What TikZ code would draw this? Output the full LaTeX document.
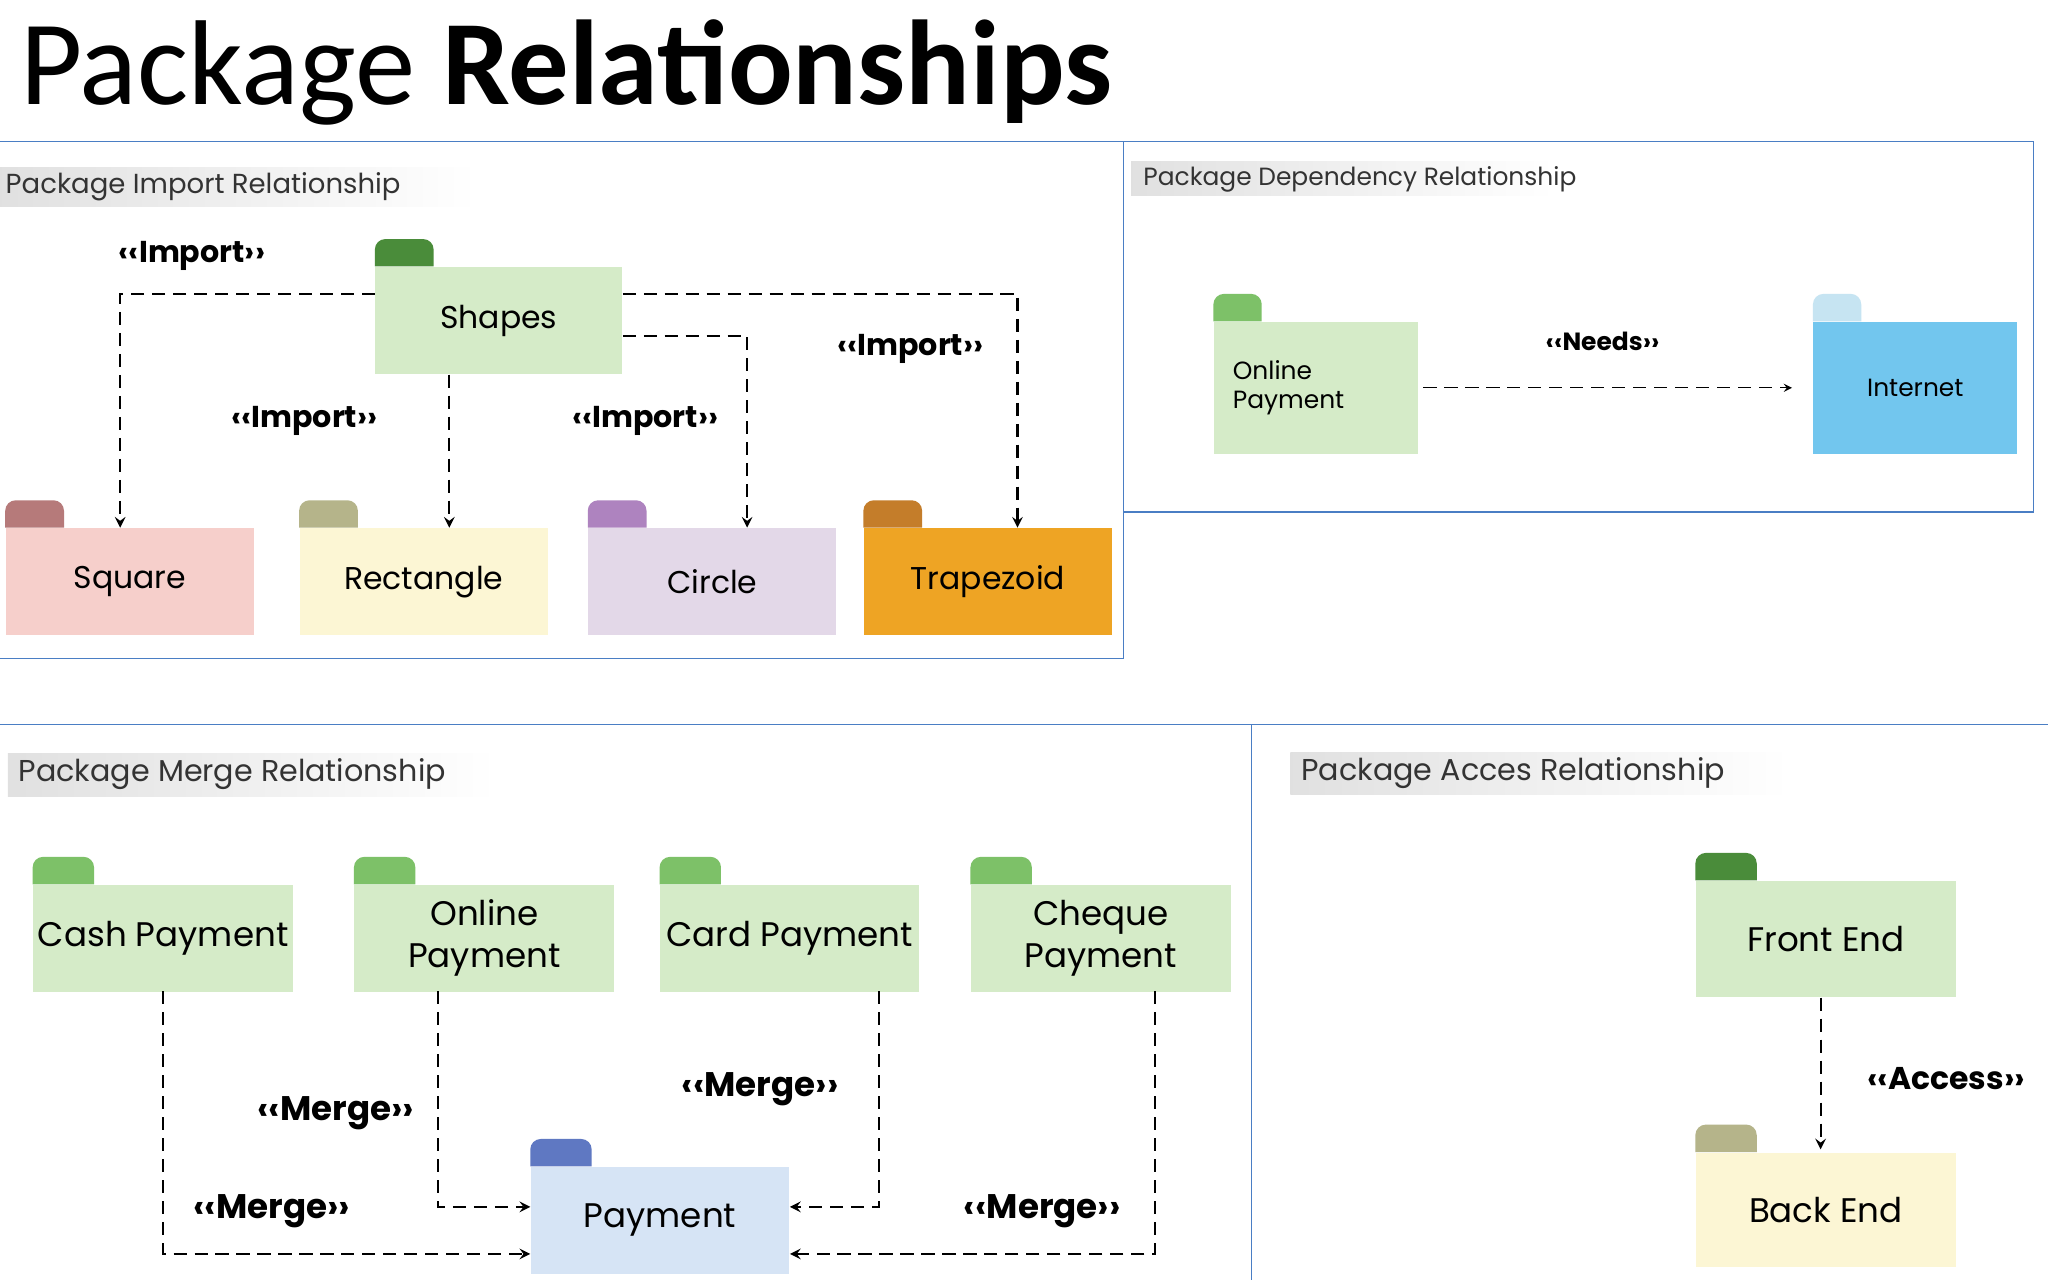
\documentclass[tikz,border=0pt]{standalone}
\usepackage{fontspec}
\setmainfont{Poppins}
\newfontfamily\titlefont{Carlito}
\usetikzlibrary{arrows,positioning,calc}
\definecolor{shapesbody}{HTML}{D5EBC8}
\definecolor{darktab}{HTML}{4A8C3A}
\definecolor{lighttab}{HTML}{7DC168}
\definecolor{squarebody}{HTML}{F6CFCB}
\definecolor{squaretab}{HTML}{B67A7A}
\definecolor{rectbody}{HTML}{FCF6D4}
\definecolor{recttab}{HTML}{B5B48A}
\definecolor{circlebody}{HTML}{E3D8E8}
\definecolor{circletab}{HTML}{AE83BF}
\definecolor{trapbody}{HTML}{EEA424}
\definecolor{traptab}{HTML}{C47D2A}
\definecolor{netbody}{HTML}{72C6EE}
\definecolor{nettab}{HTML}{C6E4F2}
\definecolor{paybody}{HTML}{D6E4F5}
\definecolor{paytab}{HTML}{5F78C2}
\definecolor{frame}{HTML}{4A7EC4}
\newcommand{\pkgtab}[3]{\fill[#2] (#1.north west) [rounded corners=4pt] |- ++(#3,-21) [sharp corners] -- ++(0,21) -- cycle;}

\begin{document}
\begin{tikzpicture}[x=0.0175cm,y=-0.0175cm]
\tikzstyle{pkg}=[rectangle,minimum width=190*0.0175cm,minimum height=82*0.0175cm,inner sep=0pt,anchor=north west,font=\fontsize{12}{14}\selectfont,align=center]
\tikzstyle{mpkg}=[pkg,minimum width=199*0.0175cm,font=\fontsize{13}{16}\selectfont]
\tikzstyle{lbl}=[font=\fontsize{11.5}{13}\selectfont\bfseries]
\tikzstyle{hdr}=[anchor=west,inner sep=0pt,font=\fontsize{10.5}{12}\selectfont,text=black!80]
\tikzstyle{dep}=[->,>=stealth,dashed,thick,dash pattern=on 5pt off 3pt]

\useasboundingbox (0,0) rectangle (1568,980);
\fill[white] (0,0) rectangle (1568,980);

%TITLE
\node[anchor=base west,inner sep=0pt,font=\titlefont\fontsize{46}{50}\selectfont] (title) at (15,80) {Package \textbf{Relationships}};

%%%%%%%%%%%%%%%%%%%%%%%%%%%%%%%%%%%%%%%%%%%%%%%%%%%%%%%%%%%%%%%%%%%%%%%%
%frames
\draw[frame] (0,108) -- (860,108) -- (860,504) -- (0,504);
\draw[frame] (860,108) rectangle (1557,392);
\draw[frame] (0,555) -- (1568,555);
\draw[frame] (958,555) -- (958,980);
\shade[left color=black!12,right color=white] (0,128) rectangle (365,158);
\shade[left color=black!12,right color=white] (866,124) rectangle (1190,150);
\shade[left color=black!12,right color=white] (6,577) rectangle (380,610);
\shade[left color=black!12,right color=white] (988,576) rectangle (1370,608);
\node[hdr] (importhdr) at (4,143) {Package Import Relationship};
\node[hdr,font=\fontsize{9.5}{11}\selectfont] (dephdr) at (875,137) {Package Dependency Relationship};
\node[hdr,font=\fontsize{11.5}{13}\selectfont] (mergehdr) at (14,593) {Package Merge Relationship};
\node[hdr,font=\fontsize{11.5}{13}\selectfont] (accesshdr) at (996,592) {Package Acces Relationship};

%%%%%%%%%%%%%%%%%%%%%%%%%%%%%%%%%%%%%%%%%%%%%%%%%%%%%%%%%%%%%%%%%%%%%%%%
%import
\node[pkg,fill=shapesbody,minimum width=189*0.0175cm] (shapes) at (287,204) {Shapes};
\node[pkg,fill=squarebody] (square) at (4,404) {Square};
\node[pkg,fill=rectbody] (rectangle) at (229,404) {Rectangle};
\node[pkg,fill=circlebody] (circle) at (450,404) {Circle};
\node[pkg,fill=trapbody] (trapezoid) at (661,404) {Trapezoid};
\pkgtab{shapes}{darktab}{45}
\pkgtab{square}{squaretab}{45}
\pkgtab{rectangle}{recttab}{45}
\pkgtab{circle}{circletab}{45}
\pkgtab{trapezoid}{traptab}{45}

\coordinate (sq) at (92,404);
\coordinate (re) at (344,404);
\coordinate (ci) at (572,404);
\coordinate (tr) at (779,404);
\draw[dep] (shapes.west |- 0,225) -| (sq);
\draw[dep] (shapes.south -| re) -- (re);
\draw[dep] (shapes.east |- 0,257) -| (ci);
\draw[dep] (shapes.east |- 0,225) -| (tr);

\node[lbl] (imp1) at (147,196) {‹‹Import››};
\node[lbl] (imp2) at (233,322) {‹‹Import››};
\node[lbl] (imp3) at (494,322) {‹‹Import››};
\node[lbl] (imp4) at (697,267) {‹‹Import››};

%%%%%%%%%%%%%%%%%%%%%%%%%%%%%%%%%%%%%%%%%%%%%%%%%%%%%%%%%%%%%%%%%%%%%%%%
%dependency
\tikzstyle{spkg}=[pkg,minimum width=156*0.0175cm,minimum height=101*0.0175cm,font=\fontsize{9.5}{11}\selectfont]
\node[spkg,fill=shapesbody,align=left,text width=127*0.0175cm,inner sep=0pt] (onlinedep) at (929,246) {Online\\Payment};
\node[spkg,fill=netbody] (internet) at (1388,246) {Internet};
\pkgtab{onlinedep}{lighttab}{37}
\pkgtab{internet}{nettab}{37}
\draw[dep,thin] ($(onlinedep.east)+(4,0)$) -- ($(internet.west)+(-16,0)$);
\node[lbl,font=\fontsize{9.5}{11}\selectfont\bfseries] (needs) at (1227,261) {‹‹Needs››};

%%%%%%%%%%%%%%%%%%%%%%%%%%%%%%%%%%%%%%%%%%%%%%%%%%%%%%%%%%%%%%%%%%%%%%%%
%merge
\node[mpkg,fill=shapesbody] (cash) at (25,677) {Cash Payment};
\node[mpkg,fill=shapesbody] (online) at (271,677) {Online\\Payment};
\node[mpkg,fill=shapesbody,minimum width=198*0.0175cm] (card) at (505,677) {Card Payment};
\node[mpkg,fill=shapesbody] (cheque) at (743,677) {Cheque\\Payment};
\node[mpkg,fill=paybody,minimum width=198*0.0175cm] (payment) at (406,893) {Payment};
\pkgtab{cash}{lighttab}{47}
\pkgtab{online}{lighttab}{47}
\pkgtab{card}{lighttab}{47}
\pkgtab{cheque}{lighttab}{47}
\pkgtab{payment}{paytab}{47}

\coordinate (ca) at (125,759);
\coordinate (on) at (335,759);
\coordinate (cd) at (673,759);
\coordinate (ch) at (884,759);
\draw[dep] (ca) |- (payment.west |- 0,960);
\draw[dep] (on) |- (payment.west |- 0,924);
\draw[dep] (cd) |- (payment.east |- 0,924);
\draw[dep] (ch) |- (payment.east |- 0,960);

\node[lbl,font=\fontsize{13}{15}\selectfont\bfseries] (merge1) at (257,852) {‹‹Merge››};
\node[lbl,font=\fontsize{13}{15}\selectfont\bfseries] (merge2) at (208,927) {‹‹Merge››};
\node[lbl,font=\fontsize{13}{15}\selectfont\bfseries] (merge3) at (582,834) {‹‹Merge››};
\node[lbl,font=\fontsize{13}{15}\selectfont\bfseries] (merge4) at (798,927) {‹‹Merge››};

%%%%%%%%%%%%%%%%%%%%%%%%%%%%%%%%%%%%%%%%%%%%%%%%%%%%%%%%%%%%%%%%%%%%%%%%
%access
\node[mpkg,fill=shapesbody,minimum height=89*0.0175cm] (frontend) at (1298,674) {Front End};
\node[mpkg,fill=rectbody,minimum height=88*0.0175cm] (backend) at (1298,882) {Back End};
\pkgtab{frontend}{darktab}{47}
\pkgtab{backend}{recttab}{47}
\draw[dep] ($(frontend.south)+(-4,0)$) -- ($(backend.north)+(-4,-2)$);
\node[lbl,font=\fontsize{12}{14}\selectfont\bfseries] (access) at (1490,826) {‹‹Access››};

\end{tikzpicture}
\end{document}
